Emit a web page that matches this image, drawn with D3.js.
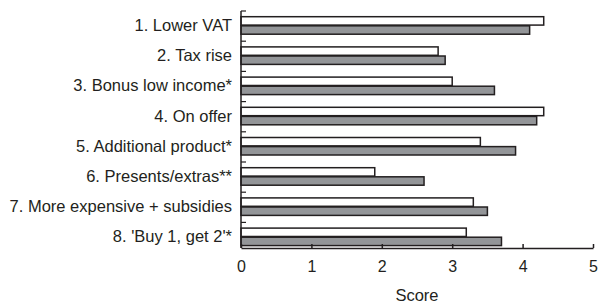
<!DOCTYPE html>
<html><head><meta charset="utf-8">
<script src="https://cdn.jsdelivr.net/npm/d3@7"></script>
<style>body{margin:0;background:#fff}svg{display:block}text{font-family:"Liberation Sans",Arial,sans-serif;fill:#231f20}</style>
</head><body><div id="c"></div>
<script>
const categories = ["1. Lower VAT","2. Tax rise","3. Bonus low income*","4. On offer","5. Additional product*","6. Presents/extras**","7. More expensive + subsidies","8. 'Buy 1, get 2'*"];
const seriesNames = ["A","B"];
const whiteValues = [4.3,2.8,3.0,4.3,3.4,1.9,3.3,3.2];
const greyValues = [4.1,2.9,3.6,4.2,3.9,2.6,3.5,3.7];
const xTicks = [0,1,2,3,4,5];
const xTitle = "Score";

const W=598,H=306;
const svg=d3.select("#c").append("svg").attr("width",W).attr("height",H);
const x=d3.scaleLinear().domain([0,5]).range([241,593]);
const y=d3.scaleBand().domain(categories).range([10.2,251.8]);
const inner=d3.scaleBand().domain(seriesNames).range([6.5,24]).paddingInner(0.08);
const axisY=248;
const fills={A:"#ffffff",B:"#939598"};
const data=categories.map((c,i)=>({c,vals:[{s:"A",v:whiteValues[i]},{s:"B",v:greyValues[i]}]}));

const g=svg.append("g");
g.selectAll("g.grp").data(data).join("g").attr("class","grp")
 .attr("transform",d=>`translate(0,${y(d.c)})`)
 .selectAll("rect").data(d=>d.vals).join("rect")
 .attr("x",x(0)).attr("y",d=>inner(d.s)).attr("width",d=>x(d.v)-x(0)).attr("height",inner.bandwidth())
 .attr("fill",d=>fills[d.s]).attr("stroke","#231f20").attr("stroke-width",1.5);

svg.append("line").attr("x1",x(0)).attr("x2",x(0)).attr("y1",y(categories[0])+0.8).attr("y2",axisY).attr("stroke","#231f20").attr("stroke-width",1.5);
svg.selectAll("line.yt").data(categories).join("line").attr("class","yt")
 .attr("x1",x(0)).attr("x2",x(0)+5).attr("y1",d=>y(d)+0.8).attr("y2",d=>y(d)+0.8).attr("stroke","#231f20").attr("stroke-width",1.2);
svg.selectAll("text.yl").data(categories).join("text").attr("class","yl")
 .attr("x",232).attr("y",d=>y(d)+y.bandwidth()/2).attr("dy","0.35em").attr("text-anchor","end")
 .attr("font-size",16.5).text(d=>d);

const xa=svg.append("g").attr("transform",`translate(0,${axisY})`)
 .call(d3.axisBottom(x).tickValues(xTicks).tickFormat(d3.format("d")).tickSizeInner(-4).tickSizeOuter(0).tickPadding(13));
xa.select(".domain").attr("stroke","#231f20").attr("stroke-width",1.5);
xa.selectAll(".tick line").attr("stroke","#231f20").attr("stroke-width",1.5);
xa.selectAll(".tick text").attr("font-size",16).attr("font-family","Liberation Sans, Arial, sans-serif").attr("fill","#231f20");
svg.append("text").attr("x",(x(0)+x(5))/2).attr("y",295).attr("dy","0.35em").attr("text-anchor","middle").attr("font-size",16.5).text(xTitle);
</script></body></html>
